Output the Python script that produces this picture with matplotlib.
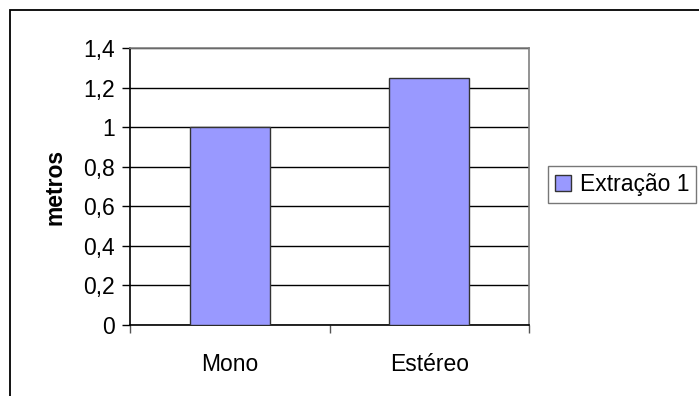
import matplotlib.pyplot as plt
from matplotlib.patches import Rectangle
from matplotlib.ticker import FuncFormatter, MultipleLocator

plt.rcParams['font.family'] = ['Liberation Sans', 'DejaVu Sans']

categories = ['Mono', 'Estéreo']
values = [1.0, 1.25]
series_name = 'Extração 1'

fig = plt.figure(figsize=(6.99, 3.96), dpi=100)
ax = fig.add_axes([130 / 699, 1 - 325 / 396, 399 / 699, 277 / 396])

# outer chart border (runs off the right and bottom edges)
fig.patches.append(Rectangle((10 / 699, -0.1), 1.2, 1 - 10 / 396 + 0.1,
                             transform=fig.transFigure, fill=False,
                             edgecolor='black', linewidth=1.3))

x = list(range(len(categories)))
ax.bar(x, values, width=0.4, color='#9999FF', edgecolor='#333333',
       linewidth=1.0, label=series_name, zorder=3)

ax.set_xlim(-0.5, 1.5)
ax.set_ylim(0, 1.4)
ax.yaxis.set_major_locator(MultipleLocator(0.2))
ax.yaxis.set_major_formatter(FuncFormatter(lambda v, p: f'{v:.1f}'.rstrip('0').rstrip('.').replace('.', ',') if v else '0'))
ax.grid(axis='y', color='black', linewidth=1.0, zorder=1)

# category ticks at boundaries, labels centred below bars
ax.set_xticks([-0.5, 0.5, 1.5])
ax.set_xticklabels([])
ax.set_xticks(x, minor=True)
ax.set_xticklabels(categories, minor=True)
ax.tick_params(axis='x', which='major', direction='out', length=6, width=1, color='#555555')
ax.tick_params(axis='x', which='minor', length=0, pad=20, labelsize=16.5)
ax.tick_params(axis='y', direction='out', length=6, width=1, labelsize=16.5, pad=5)

for s in ax.spines.values():
    s.set_color('#808080')
    s.set_linewidth(1.2)
ax.spines['left'].set_color('black')
ax.spines['bottom'].set_color('black')

ax.set_ylabel('metros', fontsize=16.5, fontweight='bold', labelpad=12)

leg = fig.legend(loc='upper left', bbox_to_anchor=(548 / 699, 1 - 166 / 396),
                 fontsize=16.5, frameon=True, fancybox=False, borderaxespad=0,
                 handlelength=0.7, handleheight=0.7, handletextpad=0.4,
                 borderpad=0.3)
leg.get_frame().set_edgecolor('#555555')
leg.get_frame().set_linewidth(1.0)

fig.savefig('out.png', dpi=100)
